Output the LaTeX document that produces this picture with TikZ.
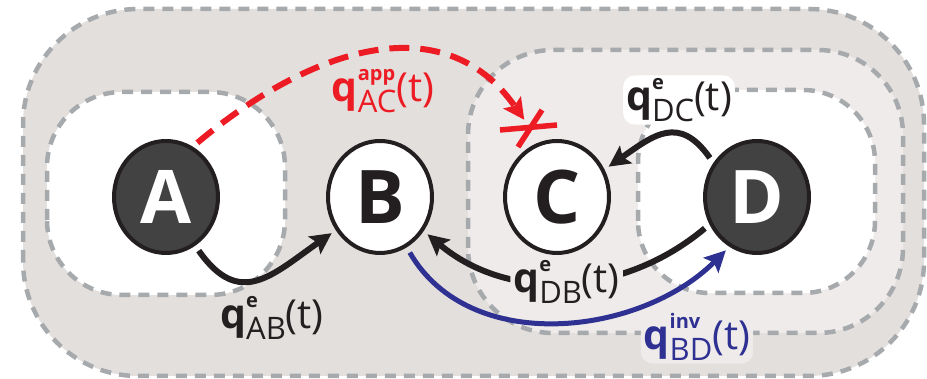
\documentclass[tikz,border=0pt]{standalone}
\usepackage{fontspec}
\setmainfont{Open Sans}
\usepackage{xcolor}
\usetikzlibrary{arrows.meta,positioning,shapes.geometric}
\definecolor{outerfill}{HTML}{E3DFDD}
\definecolor{midfill}{HTML}{EEEBEA}
\definecolor{dashgray}{HTML}{A7AAAD}
\definecolor{nodedark}{HTML}{424242}
\definecolor{inkblack}{HTML}{231F20}
\definecolor{apred}{HTML}{ED1C24}
\definecolor{invblue}{HTML}{2E3192}
\newcommand{\qrate}[2]{%
  {\fontsize{41}{41}\selectfont\bfseries q}%
  \makebox[0pt][l]{\raisebox{21pt}{\fontsize{20}{20}\selectfont\bfseries #1}}%
  \raisebox{-11pt}{\fontsize{31}{31}\selectfont #2}%
  {\fontsize{40}{40}\selectfont(t)}}

\begin{document}
\begin{tikzpicture}[x=1pt, y=1pt,
  region/.style = {draw=dashgray, line width=4.5pt, dash pattern=on 11pt off 8pt},
  site/.style = {ellipse, draw=inkblack, line width=4pt, minimum width=104pt,
    minimum height=112pt, inner sep=0pt, font=\fontsize{74}{74}\selectfont\bfseries},
  darksite/.style = {site, fill=nodedark, text=white},
  lightsite/.style = {site, fill=white, text=inkblack},
  arr/.style = {-{Stealth[length=21pt,width=21pt,inset=4pt]}, line width=6pt,
    draw=inkblack, shorten <=6pt, shorten >=5pt},
  invarr/.style = {arr, draw=invblue, line width=5pt},
  apparr/.style = {arr, draw=apred, dash pattern=on 20pt off 11pt},
  cross/.style = {draw=apred, line width=5.5pt},
  rate/.style = {inner sep=3pt, rounded corners=12pt, text=inkblack},
]
\useasboundingbox (0,0) rectangle (927,379);
% compartments
\draw[region, fill=outerfill, rounded corners=115pt] (23,3) rectangle (924,370);
\draw[region, fill=midfill, rounded corners=85pt] (468,46) rectangle (903,329);
\draw[region, fill=white, rounded corners=75pt] (47,84) rectangle (285,287);
\draw[region, fill=white, rounded corners=72pt] (638,86) rectangle (875,289);

\node[darksite] (A) at (166,182) {A};
\node[lightsite, right=106pt of A] (B) {B};
\node[lightsite, right=69pt of B] (C) {C};
\node[darksite, right=92pt of C] (D) {D};

\draw[arr] (A.-59) to[out=-55, in=-145, looseness=1.4] (B.-143);
\draw[arr] (D.142) to[out=125, in=35, looseness=1.4] (C.30);
\draw[arr] (D.-150) to[out=-140, in=-40] node[rate, fill=midfill] (qDB) {\qrate{e}{DB}} (B.-38);
\draw[invarr] (B.-62) to[out=-60, in=-135] (D.-119);
\coordinate (cut) at (530,251);
\draw[apparr, shorten >=10pt] (A.62) to[out=40, in=125, looseness=1.15] (cut);
\draw[cross] ([shift={(-30,-2)}]cut) -- ([shift={(27,3)}]cut)
  ([shift={(-12,-19)}]cut) -- ([shift={(12,18)}]cut);

\node[rate, text=apred] (qAC) at (383,288) {\qrate{app}{AC}};
\node[rate] (qAB) at (272,61) {\qrate{e}{AB}};
\node[rate, fill=white] (qDC) at (679,279) {\qrate{e}{DC}};
\node[rate, fill=midfill, text=invblue] (qBD) at (697,42) {\qrate{inv}{BD}};
\end{tikzpicture}
\end{document}
